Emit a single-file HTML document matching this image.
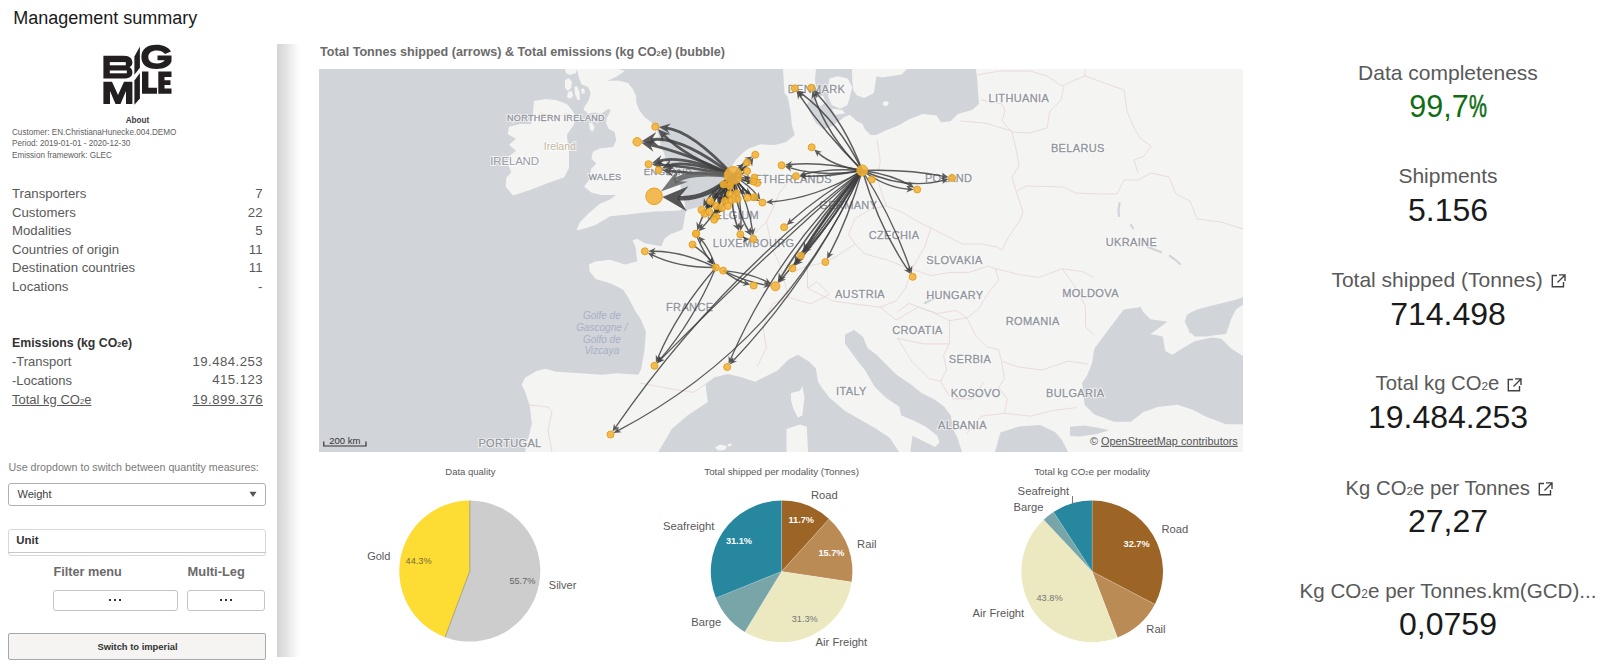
<!DOCTYPE html>
<html><head><meta charset="utf-8"><style>
html,body{margin:0;padding:0;background:#fff;overflow:hidden;}
body{width:1600px;height:664px;overflow:hidden;position:relative;font-family:"Liberation Sans", sans-serif;}
.t{position:absolute;line-height:1;white-space:nowrap;}
.abs{position:absolute;}
.sub{font-size:58%;}
svg text{font-family:"Liberation Sans", sans-serif;}
</style></head><body>
<div class="t" style="left:13.3px;top:9.06px;font-size:18px;font-weight:400;color:#1a1a1a;">Management summary</div>
<svg class="abs" style="left:0;top:0" width="200" height="120" viewBox="0 0 200 120">
<g fill="#231f20">
<path d="M103.4 55.8 H124 C130 55.8 132.4 59 132.4 62.5 C132.4 65 131 66.5 129.5 67.2 C131.5 68 132.4 70 132.4 72.5 C132.4 76 130 78.5 124 78.5 H103.4 Z"/>
<path d="M103.4 81.7 H112 L118 95 L124 81.7 H132.4 V104 H126 V91 L120.5 104 H115.5 L110 91 V104 H103.4 Z"/>
<path d="M134.4 56.4 L139.9 46.5 V67.8 L134.4 74.7 Z"/>
<path d="M134.4 80.5 L139.9 73 V98.5 L134.4 104.8 Z"/>
<path d="M141.4 57 C141.4 49 147 44.7 156.5 44.7 C163 44.7 168.5 47 171 51.5 L165 54 C163 51.5 160 50.5 157 50.5 C151.5 50.5 148.3 53 148.3 57 C148.3 61 151.5 63.4 157 63.4 C160.5 63.4 163.5 62.3 164.8 60.3 H157.5 V55.4 H171.5 V61.5 C169.5 66.3 164 69 156.5 69 C147 69 141.4 65 141.4 57 Z"/>
<path d="M142 71.6 H148.4 V87.8 H157 V93.8 H142 Z"/>
<path d="M158.3 71.6 H171.5 V77 H164.5 V80.3 H170.5 V85 H164.5 V88.4 H171.5 V93.8 H158.3 Z"/>
</g>
<g fill="#fff">
<rect x="109.8" y="62.1" width="16" height="3.2"/>
<rect x="109.8" y="70.5" width="17" height="2.8"/>
</g>
</svg>
<div class="t" style="left:-362.5px;width:1000px;text-align:center;top:116.66px;font-size:8.2px;font-weight:700;color:#404040;">About</div>
<div class="t" style="left:12.0px;top:128.70px;font-size:8.15px;font-weight:400;color:#606060;">Customer: EN.ChristianaHunecke.004.DEMO</div>
<div class="t" style="left:12.0px;top:140.20px;font-size:8.15px;font-weight:400;color:#606060;">Period: 2019-01-01 - 2020-12-30</div>
<div class="t" style="left:12.0px;top:151.70px;font-size:8.15px;font-weight:400;color:#606060;">Emission framework: GLEC</div>
<div class="t" style="left:12.0px;top:186.93px;font-size:13.2px;font-weight:400;color:#595959;">Transporters</div>
<div class="t" style="left:-737.5px;width:1000px;text-align:right;top:186.93px;font-size:13.2px;font-weight:400;color:#595959;">7</div>
<div class="t" style="left:12.0px;top:205.53px;font-size:13.2px;font-weight:400;color:#595959;">Customers</div>
<div class="t" style="left:-737.5px;width:1000px;text-align:right;top:205.53px;font-size:13.2px;font-weight:400;color:#595959;">22</div>
<div class="t" style="left:12.0px;top:223.53px;font-size:13.2px;font-weight:400;color:#595959;">Modalities</div>
<div class="t" style="left:-737.5px;width:1000px;text-align:right;top:223.53px;font-size:13.2px;font-weight:400;color:#595959;">5</div>
<div class="t" style="left:12.0px;top:242.83px;font-size:13.2px;font-weight:400;color:#595959;">Countries of origin</div>
<div class="t" style="left:-737.5px;width:1000px;text-align:right;top:242.83px;font-size:13.2px;font-weight:400;color:#595959;">11</div>
<div class="t" style="left:12.0px;top:261.33px;font-size:13.2px;font-weight:400;color:#595959;">Destination countries</div>
<div class="t" style="left:-737.5px;width:1000px;text-align:right;top:261.33px;font-size:13.2px;font-weight:400;color:#595959;">11</div>
<div class="t" style="left:12.0px;top:279.83px;font-size:13.2px;font-weight:400;color:#595959;">Locations</div>
<div class="t" style="left:-737.5px;width:1000px;text-align:right;top:279.83px;font-size:13.2px;font-weight:400;color:#595959;">-</div>
<div class="t" style="left:12.0px;top:337.09px;font-size:12.3px;font-weight:700;color:#333333;">Emissions (kg CO<span class="sub">2</span>e)</div>
<div class="t" style="left:12.0px;top:355.40px;font-size:13px;font-weight:400;color:#595959;">-Transport</div>
<div class="t" style="left:-737.0px;width:1000px;text-align:right;top:355.23px;font-size:13.2px;font-weight:400;color:#595959;letter-spacing:0.45px;">19.484.253</div>
<div class="t" style="left:12.0px;top:373.60px;font-size:13px;font-weight:400;color:#595959;">-Locations</div>
<div class="t" style="left:-737.0px;width:1000px;text-align:right;top:373.43px;font-size:13.2px;font-weight:400;color:#595959;letter-spacing:0.45px;">415.123</div>
<div class="t" style="left:12.0px;top:392.90px;font-size:13px;font-weight:400;color:#595959;"><u>Total kg CO<span class="sub">2</span>e</u></div>
<div class="t" style="left:-737.0px;width:1000px;text-align:right;top:392.73px;font-size:13.2px;font-weight:400;color:#595959;letter-spacing:0.45px;"><u>19.899.376</u></div>
<div class="t" style="left:8.6px;top:461.74px;font-size:10.7px;font-weight:400;color:#7a7a7a;">Use dropdown to switch between quantity measures:</div>
<div class="abs" style="left:8.4px;top:483.4px;width:257.6px;height:22.9px;box-sizing:border-box;border:1px solid #b0b0b0;border-radius:3px;background:#fff"></div>
<div class="t" style="left:17.5px;top:489.49px;font-size:11px;font-weight:400;color:#404040;">Weight</div>
<svg class="abs" style="left:249px;top:491px" width="9" height="7"><path d="M0.5 0.8 H7.5 L4 6 Z" fill="#555"/></svg>
<div class="abs" style="left:8.4px;top:528.5px;width:257.6px;height:27.5px;box-sizing:border-box;border:1px solid #d8d8d8;border-radius:3px;background:#fff"></div>
<div class="abs" style="left:8.4px;top:552px;width:257.6px;height:1px;background:#c8c8c8"></div>
<div class="t" style="left:16.3px;top:534.95px;font-size:11.4px;font-weight:700;color:#333333;">Unit</div>
<div class="t" style="left:53.4px;top:566.15px;font-size:12.7px;font-weight:700;color:#6b6b6b;">Filter menu</div>
<div class="t" style="left:187.6px;top:565.98px;font-size:12.9px;font-weight:700;color:#6b6b6b;">Multi-Leg</div>
<div class="abs" style="left:53.4px;top:589.5px;width:124.2px;height:21.1px;box-sizing:border-box;border:1px solid #c4c4c4;border-radius:3px;background:#fff"></div>
<div class="abs" style="left:187.3px;top:589.5px;width:77.8px;height:21.1px;box-sizing:border-box;border:1px solid #c4c4c4;border-radius:3px;background:#fff"></div>
<div class="abs" style="left:109px;top:599px;width:2px;height:2px;background:#333"></div>
<div class="abs" style="left:114px;top:599px;width:2px;height:2px;background:#333"></div>
<div class="abs" style="left:119px;top:599px;width:2px;height:2px;background:#333"></div>
<div class="abs" style="left:220px;top:599px;width:2px;height:2px;background:#333"></div>
<div class="abs" style="left:225px;top:599px;width:2px;height:2px;background:#333"></div>
<div class="abs" style="left:230px;top:599px;width:2px;height:2px;background:#333"></div>
<div class="abs" style="left:8.4px;top:633.4px;width:257.3px;height:26.4px;box-sizing:border-box;border:1px solid #a8a8a8;border-radius:2px;background:#f5f4f2"></div>
<div class="t" style="left:-362.5px;width:1000px;text-align:center;top:641.54px;font-size:9.4px;font-weight:700;color:#333333;">Switch to imperial</div>
<div class="abs" style="left:277px;top:44px;width:24px;height:613px;background:linear-gradient(to right,#d4d4d4 0%,#e2e2e2 35%,#f8f8f8 80%,#ffffff 100%)"></div>
<div class="t" style="left:320.0px;top:46.33px;font-size:12.6px;font-weight:700;color:#6b6b6b;">Total Tonnes shipped (arrows) &amp; Total emissions (kg CO<span class="sub">2</span>e) (bubble)</div>
<svg class="abs" style="left:319px;top:69px" width="924" height="383" viewBox="319 69 924 383">
<rect x="319" y="69" width="924" height="383" fill="#f4f4f3"/>
<polygon points="319,69 783,69 784.5,93 787.7,97 790.5,111 791.9,125 794.7,135 786.2,142 775,145 760.4,144.3 748.3,148.8 742.3,153.3 736.3,159.4 730.2,168.4 725,178 720,190 712.3,202.6 698.8,207.1 688,209.8 685.5,212 684,222 682.4,229.7 670.4,234.2 664.4,238.8 661.4,246.3 644.8,243.3 637.2,238.8 632.7,240.3 635.7,247.8 637.2,261.4 625.2,264.4 610.1,259.8 595.1,261.4 589,264.4 589.6,271.3 595.7,279 611,283.5 623,289.6 629,298.7 635.2,311 641.3,320 646,332 644.4,350.5 641.3,368.7 638.3,374.8 617,373.3 601.8,374.8 580.5,373.3 556,371.8 545.6,368.7 536.4,371 525,377.8 521.6,384.7 525,391.6 529.6,405.3 531.9,423.6 527.3,442 525,452 319,452" fill="#d1d4d9"/>
<polygon points="816,69 852,69 852.3,81 853.5,90.7 857.1,95.5 864.3,97.9 874,93.1 876.4,76.2 881.9,77.4 901.6,74.6 907,69 976,69 977.5,83 979,104 972,110 957.8,114 950.8,121 941,122.4 936.7,115.4 922.7,114 908.6,119.6 898.8,125.2 884.7,130.9 876.2,135 870.6,135 865,129.5 862.2,123.8 856.6,121 849.9,114.8 843.9,117.2 837.8,122 830.6,126.8 823.4,129.2 816.1,123.2 811.3,114.8 806.5,105.1 810,100.3 816.1,93.1 815,78.6" fill="#d1d4d9"/>
<polygon points="658.3,452 671.8,429 687.5,415.5 707.8,402 705.5,384 714.5,377.3 728,373.9 741.5,377.3 755,381.8 764,377.3 777.5,370.5 788.8,359.3 797.8,354.8 809,361.5 815.8,368.3 818,381.8 822.5,388.5 829.3,397.5 845,411 860.8,420 876.5,429 890,438 899,452" fill="#d1d4d9"/>
<polygon points="845,334.5 854,330 863,336.8 867.5,348 876.5,354.8 885.5,363.8 896.8,375 910.3,384 921.5,393 935,399.8 944,406.5 950.8,415.5 953,429 957.5,438 962,452 910.3,452 912.5,435.8 935,447 939.5,442.5 937.3,435.8 926,426.8 912.5,420 901.3,415.5 899,406.5 885.5,397.5 874.3,386.3 865.3,370.5 856.3,359.3 845,343.5" fill="#d1d4d9"/>
<polygon points="1123.7,309.5 1140.8,307 1143.2,312 1150.5,319.3 1167.6,321.7 1150.5,334 1162.7,336.4 1165.2,351 1172.5,354.7 1182.2,348.6 1194.5,341.2 1211.5,337.6 1221.3,338.8 1231,348.6 1243,355.9 1243,424.2 1226.2,424.2 1206.7,416.9 1192,409.6 1177.4,404.7 1157.8,407.1 1143.2,412 1131,421.8 1113.9,421.8 1094.4,414.5 1084.6,404.7 1082.2,382.7 1087.1,375.4 1092,363.2 1094.4,348.6 1101.7,338.8 1109,329 1116.4,319.3" fill="#d1d4d9"/>
<polygon points="1187.1,314.4 1196.9,309.5 1216.4,304.6 1235.9,299.8 1243,297.3 1243,304.6 1235.9,309.5 1231,319.3 1226.2,334 1216.4,335.1 1206.7,336.4 1194.5,336.4 1189.6,331.5 1184.7,321.7" fill="#d1d4d9"/>
<polygon points="1070,426.7 1084.6,425.4 1099.3,427.9 1109,430.3 1096.8,434 1079.8,436.4 1070,436" fill="#d1d4d9"/>
<polygon points="995,452 1000.4,432.6 1018.7,426.5 1040,425 1055,432 1062,440 1068,452" fill="#d1d4d9"/>
<polygon points="534,101 545,99 556,100 566.8,104 572,110 576.4,117 574,124.3 566.8,135 568,145 569,153 569,167.7 564.3,177.3 547.5,183.3 530,190 513,195.5 505.6,186.5 506.5,177.3 511.3,172.4 507.7,163 510,155.6 516,150.8 509,144.7 516,138.7 507.7,134 509,126.7 520,124 531,124 533,114" fill="#f4f4f3"/>
<polygon points="589,123 592,122.5 594.5,127 593,131.5 590,130" fill="#f4f4f3"/>
<polygon points="577,69 617.9,69 625,71 616,77 607,81 618,80.5 628,83 632.8,88.9 636.1,95.5 636.1,102.1 639.5,110.4 644.4,117 651,122 656,127 657.7,132 659.3,138.6 661,146.9 664.3,153.5 666,161.8 669.3,168.4 675.9,175 680,181 681,190 684,200 685.5,207 680,210.5 670.4,211 655.3,211.6 640.3,213.1 625.2,214.7 610,216.2 595,225.2 580,229.7 576.4,230 580,222 589,213 599.6,204 610,199.6 616,195 601,195 591.4,192.5 584,186.5 589.8,179 589.8,175 591.4,168.4 596.4,163.4 591.4,158.5 593,151.8 599.7,148.5 613,146.9 616.3,140.2 614.6,132 608.8,129 606,123.2 607,117.8 610.6,110.6 608.8,108.8 604.2,111.5 600.6,114.2 595.2,112.4 588,113.3 583.5,109.7 584.4,107 588.9,99.7 590.7,92.5 588,87 581.6,84.4 579,78" fill="#f4f4f3"/>
<polygon points="574.4,87 577,86 579.5,92 580,99.7 577.5,100 575,94" fill="#f4f4f3"/>
<polygon points="565,80 569,78 572,82 571,88 568,91 565,88" fill="#f4f4f3"/>
<polygon points="568,92 572,91 573,96 570,99 567,97" fill="#f4f4f3"/>
<polygon points="565,69 577,69 576,73 570,75 566,73" fill="#f4f4f3"/>
<polygon points="581,89 584,88.5 585,93 582,94" fill="#f4f4f3"/>
<polygon points="791,393 800,390.8 802.3,386.3 804.5,397.5 802.3,415.5 797.8,417.8 793.3,408.8 791,399.8" fill="#f4f4f3"/>
<polygon points="786.5,429 800,424.5 806.8,426.8 808,452 786.5,452" fill="#f4f4f3"/>
<polygon points="829.4,78.6 837.8,76.2 847.5,78.6 852.3,87 849.9,96.7 847.5,105.1 840.2,108.8 831.8,105.1 828.2,96.7 828.2,87" fill="#f4f4f3"/>
<polygon points="816.1,96.7 823.4,95.5 825.8,102.7 819.8,106.3 815,102.7" fill="#f4f4f3"/>
<polygon points="831.8,108.8 842.7,110 845.1,113.6 835.4,114.8" fill="#f4f4f3"/>
<polygon points="883,102 887,101 889,104 886,106.5 883,105" fill="#f4f4f3"/>
<polygon points="715,447.5 720,444.5 727,446 725,450 718,450.5" fill="#f4f4f3"/>
<polygon points="728,444 731,443.5 731.5,446 728.5,446.5" fill="#f4f4f3"/>
<polyline points="1119.5,203 1118.5,210 1119,216" fill="none" stroke="#d1d4d9" stroke-width="2.2" stroke-linecap="round"/>
<polyline points="1148,247 1154,249.5 1161,252" fill="none" stroke="#d1d4d9" stroke-width="2.2" stroke-linecap="round"/>
<polyline points="1170,256 1175,259.5 1180,264" fill="none" stroke="#d1d4d9" stroke-width="2.2" stroke-linecap="round"/>
<polyline points="1131,225 1133,228" fill="none" stroke="#d1d4d9" stroke-width="2.2" stroke-linecap="round"/>
<polyline points="925,303 931,300 935,298" fill="none" stroke="#d1d4d9" stroke-width="2.2" stroke-linecap="round"/>
<polyline points="1190,332 1200,330" fill="none" stroke="#d1d4d9" stroke-width="2.2" stroke-linecap="round"/>
<polyline points="977,75 1000,71 1030,71 1047,76 1062,86 1075,80 1085,76 1085,69" fill="none" stroke="#e8d2d2" stroke-width="0.75" stroke-linejoin="round"/>
<polyline points="1064,86 1061,100 1050,111 1047,128 1030,133 1012,132 1002,121 1005,111 1002,104 981,100" fill="none" stroke="#e8d2d2" stroke-width="0.75" stroke-linejoin="round"/>
<polyline points="960,121 985,123 1012,131" fill="none" stroke="#e8d2d2" stroke-width="0.75" stroke-linejoin="round"/>
<polyline points="1012,132 1016,149 1019,166 1012,177 1016,191 1023,212 1019,222 1009,236 1002,250" fill="none" stroke="#e8d2d2" stroke-width="0.75" stroke-linejoin="round"/>
<polyline points="1017,191 1026,186 1064,187 1075,193 1099,194 1117,194 1124,180 1138,180 1151,173 1169,177 1176,194 1190,201 1197,219 1221,222 1243,229" fill="none" stroke="#e8d2d2" stroke-width="0.75" stroke-linejoin="round"/>
<polyline points="1085,76 1124,90 1127,111 1134,128 1141,139 1151,146 1144,156 1134,160 1138,173" fill="none" stroke="#e8d2d2" stroke-width="0.75" stroke-linejoin="round"/>
<polyline points="877,139.5 880.3,161.6 877,177.5 881.8,193.3 886.6,206" fill="none" stroke="#e8d2d2" stroke-width="0.75" stroke-linejoin="round"/>
<polyline points="886.6,206 870.8,209 855,218.6 848.6,234.4 855,244 864.4,253.4 874,256.6 886.6,259.7 902.4,266 912,269.2" fill="none" stroke="#e8d2d2" stroke-width="0.75" stroke-linejoin="round"/>
<polyline points="886.6,206 902.4,212.3 918.2,221.8 931,228 943.5,234.4 962.5,244 981.5,244 997.3,247 1002,250" fill="none" stroke="#e8d2d2" stroke-width="0.75" stroke-linejoin="round"/>
<polyline points="931,228 924.6,247 912,269.2" fill="none" stroke="#e8d2d2" stroke-width="0.75" stroke-linejoin="round"/>
<polyline points="912,269.2 931,275.6 950,272.4 968.9,272.4 987.8,266 995.7,268.7" fill="none" stroke="#e8d2d2" stroke-width="0.75" stroke-linejoin="round"/>
<polyline points="855,244 836,256.6 823.3,263 807.5,266 791.6,272.4" fill="none" stroke="#e8d2d2" stroke-width="0.75" stroke-linejoin="round"/>
<polyline points="807.5,266 807.5,288.2 832.8,301 855,304 880.3,307.2 896,301 905.6,288.2 912,269.2" fill="none" stroke="#e8d2d2" stroke-width="0.75" stroke-linejoin="round"/>
<polyline points="880.3,307.2 896,320 918.2,307.2 937.2,313.5 956.2,310.4 966.8,317.9" fill="none" stroke="#e8d2d2" stroke-width="0.75" stroke-linejoin="round"/>
<polyline points="791.6,177.5 779,193.3 772.7,209 766.3,221.8 772.7,250" fill="none" stroke="#e8d2d2" stroke-width="0.75" stroke-linejoin="round"/>
<polyline points="995.7,268.7 998.6,280.2 987,294.7 978.4,309.2 966.8,317.9" fill="none" stroke="#e8d2d2" stroke-width="0.75" stroke-linejoin="round"/>
<polyline points="966.8,317.9 949.4,320.7 932,312 909,303.4 897.4,312" fill="none" stroke="#e8d2d2" stroke-width="0.75" stroke-linejoin="round"/>
<polyline points="995.7,268.7 1018.8,274.5 1039,277.4 1062.2,268.7 1082.5,271.6 1094,277.4" fill="none" stroke="#e8d2d2" stroke-width="0.75" stroke-linejoin="round"/>
<polyline points="1062.2,268.7 1076.7,289 1085.4,306.3 1085.4,326.5 1094,335.2" fill="none" stroke="#e8d2d2" stroke-width="0.75" stroke-linejoin="round"/>
<polyline points="966.8,317.9 975.5,335.2 987,346.8 998.6,349.7 1001.5,361.2" fill="none" stroke="#e8d2d2" stroke-width="0.75" stroke-linejoin="round"/>
<polyline points="1001.5,361.2 1018.8,367 1042,370 1068,361.2 1088.3,364" fill="none" stroke="#e8d2d2" stroke-width="0.75" stroke-linejoin="round"/>
<polyline points="1001.5,361.2 1004.4,378.6 998.6,387.3 1007.3,398.8 1004.4,413.3" fill="none" stroke="#e8d2d2" stroke-width="0.75" stroke-linejoin="round"/>
<polyline points="949.4,320.7 949.4,343.9 943.6,355.5 946.5,370 940.7,381.5 949.4,396" fill="none" stroke="#e8d2d2" stroke-width="0.75" stroke-linejoin="round"/>
<polyline points="897.4,338.1 923.4,343.9 949.4,343.9" fill="none" stroke="#e8d2d2" stroke-width="0.75" stroke-linejoin="round"/>
<polyline points="897.4,338.1 911.8,361.2 929.2,378.6 940.7,381.5" fill="none" stroke="#e8d2d2" stroke-width="0.75" stroke-linejoin="round"/>
<polyline points="952.3,398.8 972.6,398.8 984.1,381.5" fill="none" stroke="#e8d2d2" stroke-width="0.75" stroke-linejoin="round"/>
<polyline points="1004.4,413.3 981.2,416.2 966.8,433.6" fill="none" stroke="#e8d2d2" stroke-width="0.75" stroke-linejoin="round"/>
<polyline points="1004.4,413.3 1030.4,416.2 1053.6,410.4 1076.7,407.5" fill="none" stroke="#e8d2d2" stroke-width="0.75" stroke-linejoin="round"/>
<polyline points="772.7,250 779,262.7 785.4,284.8 788.5,297.5" fill="none" stroke="#e8d2d2" stroke-width="0.75" stroke-linejoin="round"/>
<polyline points="788.5,297.5 772.7,303.8 766.4,316.4 763.3,329 766.4,348 760.1,360.7 757,367" fill="none" stroke="#e8d2d2" stroke-width="0.75" stroke-linejoin="round"/>
<polyline points="788.5,297.5 810.7,303.8 829.6,294.3 817,281.7 807.5,288.2" fill="none" stroke="#e8d2d2" stroke-width="0.75" stroke-linejoin="round"/>
<polyline points="640,383 671.6,389 693.7,392.3 705.5,384" fill="none" stroke="#e8d2d2" stroke-width="0.75" stroke-linejoin="round"/>
<polyline points="712,202.6 725,214 740,222 753.8,234.2 766.3,221.8" fill="none" stroke="#e8d2d2" stroke-width="0.75" stroke-linejoin="round"/>
<polyline points="540,112 548,118 556,122 560,116 567,113" fill="none" stroke="#e8d2d2" stroke-width="0.75" stroke-linejoin="round"/>
<polyline points="528,405 540,406 548,407 552,412 548,430 552,452" fill="none" stroke="#e8d2d2" stroke-width="0.75" stroke-linejoin="round"/>
<text x="816.5" y="93.0" text-anchor="middle" font-size="11" fill="#fff" stroke="#fff" stroke-width="2.2" stroke-opacity="0.8" style="letter-spacing:0.35px;">DENMARK</text>
<text x="816.5" y="93.0" text-anchor="middle" font-size="11" fill="#91959c" stroke="#91959c" stroke-width="0.35" style="letter-spacing:0.35px;">DENMARK</text>
<text x="1018.8" y="102.1" text-anchor="middle" font-size="11" fill="#fff" stroke="#fff" stroke-width="2.2" stroke-opacity="0.8" style="letter-spacing:0.35px;">LITHUANIA</text>
<text x="1018.8" y="102.1" text-anchor="middle" font-size="11" fill="#91959c" stroke="#91959c" stroke-width="0.35" style="letter-spacing:0.35px;">LITHUANIA</text>
<text x="556" y="121.39999999999999" text-anchor="middle" font-size="9" fill="#fff" stroke="#fff" stroke-width="2.2" stroke-opacity="0.8" style="letter-spacing:0.35px;">NORTHERN IRELAND</text>
<text x="556" y="121.39999999999999" text-anchor="middle" font-size="9" fill="#91959c" stroke="#91959c" stroke-width="0.35" style="letter-spacing:0.35px;">NORTHERN IRELAND</text>
<text x="559.8" y="150.3" text-anchor="middle" font-size="10.5" font-weight="400" fill="#c2b89e" stroke="#fff" stroke-width="2" stroke-opacity="0.7" paint-order="stroke" style="">Ireland</text>
<text x="514.6" y="165.4" text-anchor="middle" font-size="11.5" font-weight="400" fill="#999da5" stroke="#fff" stroke-width="2" stroke-opacity="0.7" paint-order="stroke" style="letter-spacing:-0.2px;">IRELAND</text>
<text x="1077.8" y="151.5" text-anchor="middle" font-size="11" fill="#fff" stroke="#fff" stroke-width="2.2" stroke-opacity="0.8" style="letter-spacing:0.35px;">BELARUS</text>
<text x="1077.8" y="151.5" text-anchor="middle" font-size="11" fill="#91959c" stroke="#91959c" stroke-width="0.35" style="letter-spacing:0.35px;">BELARUS</text>
<text x="605" y="179.79999999999998" text-anchor="middle" font-size="9" fill="#fff" stroke="#fff" stroke-width="2.2" stroke-opacity="0.8" style="letter-spacing:0.35px;">WALES</text>
<text x="605" y="179.79999999999998" text-anchor="middle" font-size="9" fill="#91959c" stroke="#91959c" stroke-width="0.35" style="letter-spacing:0.35px;">WALES</text>
<text x="668" y="175.0" text-anchor="middle" font-size="9.5" fill="#fff" stroke="#fff" stroke-width="2.2" stroke-opacity="0.8" style="letter-spacing:0.35px;">ENGLAND</text>
<text x="668" y="175.0" text-anchor="middle" font-size="9.5" fill="#91959c" stroke="#91959c" stroke-width="0.35" style="letter-spacing:0.35px;">ENGLAND</text>
<text x="789" y="182.9" text-anchor="middle" font-size="11" fill="#fff" stroke="#fff" stroke-width="2.2" stroke-opacity="0.8" style="letter-spacing:0.35px;">NETHERLANDS</text>
<text x="789" y="182.9" text-anchor="middle" font-size="11" fill="#91959c" stroke="#91959c" stroke-width="0.35" style="letter-spacing:0.35px;">NETHERLANDS</text>
<text x="948.6" y="182.1" text-anchor="middle" font-size="11" fill="#fff" stroke="#fff" stroke-width="2.2" stroke-opacity="0.8" style="letter-spacing:0.35px;">POLAND</text>
<text x="948.6" y="182.1" text-anchor="middle" font-size="11" fill="#91959c" stroke="#91959c" stroke-width="0.35" style="letter-spacing:0.35px;">POLAND</text>
<text x="848.3" y="208.9" text-anchor="middle" font-size="11" fill="#fff" stroke="#fff" stroke-width="2.2" stroke-opacity="0.8" style="letter-spacing:0.35px;">GERMANY</text>
<text x="848.3" y="208.9" text-anchor="middle" font-size="11" fill="#91959c" stroke="#91959c" stroke-width="0.35" style="letter-spacing:0.35px;">GERMANY</text>
<text x="733" y="219.1" text-anchor="middle" font-size="11" fill="#fff" stroke="#fff" stroke-width="2.2" stroke-opacity="0.8" style="letter-spacing:0.35px;">BELGIUM</text>
<text x="733" y="219.1" text-anchor="middle" font-size="11" fill="#91959c" stroke="#91959c" stroke-width="0.35" style="letter-spacing:0.35px;">BELGIUM</text>
<text x="753.6" y="246.6" text-anchor="middle" font-size="11" fill="#fff" stroke="#fff" stroke-width="2.2" stroke-opacity="0.8" style="letter-spacing:0.35px;">LUXEMBOURG</text>
<text x="753.6" y="246.6" text-anchor="middle" font-size="11" fill="#91959c" stroke="#91959c" stroke-width="0.35" style="letter-spacing:0.35px;">LUXEMBOURG</text>
<text x="894" y="239.0" text-anchor="middle" font-size="11" fill="#fff" stroke="#fff" stroke-width="2.2" stroke-opacity="0.8" style="letter-spacing:0.35px;">CZECHIA</text>
<text x="894" y="239.0" text-anchor="middle" font-size="11" fill="#91959c" stroke="#91959c" stroke-width="0.35" style="letter-spacing:0.35px;">CZECHIA</text>
<text x="1131.4" y="245.79999999999998" text-anchor="middle" font-size="11" fill="#fff" stroke="#fff" stroke-width="2.2" stroke-opacity="0.8" style="letter-spacing:0.35px;">UKRAINE</text>
<text x="1131.4" y="245.79999999999998" text-anchor="middle" font-size="11" fill="#91959c" stroke="#91959c" stroke-width="0.35" style="letter-spacing:0.35px;">UKRAINE</text>
<text x="954.5" y="264.3" text-anchor="middle" font-size="11" fill="#fff" stroke="#fff" stroke-width="2.2" stroke-opacity="0.8" style="letter-spacing:0.35px;">SLOVAKIA</text>
<text x="954.5" y="264.3" text-anchor="middle" font-size="11" fill="#91959c" stroke="#91959c" stroke-width="0.35" style="letter-spacing:0.35px;">SLOVAKIA</text>
<text x="689.7" y="311.20000000000005" text-anchor="middle" font-size="11" fill="#fff" stroke="#fff" stroke-width="2.2" stroke-opacity="0.8" style="letter-spacing:0.35px;">FRANCE</text>
<text x="689.7" y="311.20000000000005" text-anchor="middle" font-size="11" fill="#91959c" stroke="#91959c" stroke-width="0.35" style="letter-spacing:0.35px;">FRANCE</text>
<text x="860" y="298.40000000000003" text-anchor="middle" font-size="11" fill="#fff" stroke="#fff" stroke-width="2.2" stroke-opacity="0.8" style="letter-spacing:0.35px;">AUSTRIA</text>
<text x="860" y="298.40000000000003" text-anchor="middle" font-size="11" fill="#91959c" stroke="#91959c" stroke-width="0.35" style="letter-spacing:0.35px;">AUSTRIA</text>
<text x="954.8" y="299.3" text-anchor="middle" font-size="11" fill="#fff" stroke="#fff" stroke-width="2.2" stroke-opacity="0.8" style="letter-spacing:0.35px;">HUNGARY</text>
<text x="954.8" y="299.3" text-anchor="middle" font-size="11" fill="#91959c" stroke="#91959c" stroke-width="0.35" style="letter-spacing:0.35px;">HUNGARY</text>
<text x="1090.5" y="296.90000000000003" text-anchor="middle" font-size="11" fill="#fff" stroke="#fff" stroke-width="2.2" stroke-opacity="0.8" style="letter-spacing:0.35px;">MOLDOVA</text>
<text x="1090.5" y="296.90000000000003" text-anchor="middle" font-size="11" fill="#91959c" stroke="#91959c" stroke-width="0.35" style="letter-spacing:0.35px;">MOLDOVA</text>
<text x="917.5" y="334.20000000000005" text-anchor="middle" font-size="11" fill="#fff" stroke="#fff" stroke-width="2.2" stroke-opacity="0.8" style="letter-spacing:0.35px;">CROATIA</text>
<text x="917.5" y="334.20000000000005" text-anchor="middle" font-size="11" fill="#91959c" stroke="#91959c" stroke-width="0.35" style="letter-spacing:0.35px;">CROATIA</text>
<text x="1032.7" y="325.20000000000005" text-anchor="middle" font-size="11" fill="#fff" stroke="#fff" stroke-width="2.2" stroke-opacity="0.8" style="letter-spacing:0.35px;">ROMANIA</text>
<text x="1032.7" y="325.20000000000005" text-anchor="middle" font-size="11" fill="#91959c" stroke="#91959c" stroke-width="0.35" style="letter-spacing:0.35px;">ROMANIA</text>
<text x="970" y="363.20000000000005" text-anchor="middle" font-size="11" fill="#fff" stroke="#fff" stroke-width="2.2" stroke-opacity="0.8" style="letter-spacing:0.35px;">SERBIA</text>
<text x="970" y="363.20000000000005" text-anchor="middle" font-size="11" fill="#91959c" stroke="#91959c" stroke-width="0.35" style="letter-spacing:0.35px;">SERBIA</text>
<text x="851.4" y="395.1" text-anchor="middle" font-size="11" fill="#fff" stroke="#fff" stroke-width="2.2" stroke-opacity="0.8" style="letter-spacing:0.35px;">ITALY</text>
<text x="851.4" y="395.1" text-anchor="middle" font-size="11" fill="#91959c" stroke="#91959c" stroke-width="0.35" style="letter-spacing:0.35px;">ITALY</text>
<text x="975.7" y="396.6" text-anchor="middle" font-size="11" fill="#fff" stroke="#fff" stroke-width="2.2" stroke-opacity="0.8" style="letter-spacing:0.35px;">KOSOVO</text>
<text x="975.7" y="396.6" text-anchor="middle" font-size="11" fill="#91959c" stroke="#91959c" stroke-width="0.35" style="letter-spacing:0.35px;">KOSOVO</text>
<text x="1075.2" y="396.6" text-anchor="middle" font-size="11" fill="#fff" stroke="#fff" stroke-width="2.2" stroke-opacity="0.8" style="letter-spacing:0.35px;">BULGARIA</text>
<text x="1075.2" y="396.6" text-anchor="middle" font-size="11" fill="#91959c" stroke="#91959c" stroke-width="0.35" style="letter-spacing:0.35px;">BULGARIA</text>
<text x="962.5" y="428.6" text-anchor="middle" font-size="11" fill="#fff" stroke="#fff" stroke-width="2.2" stroke-opacity="0.8" style="letter-spacing:0.35px;">ALBANIA</text>
<text x="962.5" y="428.6" text-anchor="middle" font-size="11" fill="#91959c" stroke="#91959c" stroke-width="0.35" style="letter-spacing:0.35px;">ALBANIA</text>
<text x="510" y="447.1" text-anchor="middle" font-size="11" fill="#fff" stroke="#fff" stroke-width="2.2" stroke-opacity="0.8" style="letter-spacing:0.35px;">PORTUGAL</text>
<text x="510" y="447.1" text-anchor="middle" font-size="11" fill="#91959c" stroke="#91959c" stroke-width="0.35" style="letter-spacing:0.35px;">PORTUGAL</text>
<text x="601.8" y="319.4" text-anchor="middle" font-size="10" font-style="italic" fill="#a7b0c6">Golfe de</text>
<text x="601.8" y="331.3" text-anchor="middle" font-size="10" font-style="italic" fill="#a7b0c6">Gascogne /</text>
<text x="601.8" y="342.8" text-anchor="middle" font-size="10" font-style="italic" fill="#a7b0c6">Golfo de</text>
<text x="601.8" y="354.4" text-anchor="middle" font-size="10" font-style="italic" fill="#a7b0c6">Vizcaya</text>
<path d="M733.2 175.5 Q691.8 130.9 665.8 127.9" fill="none" stroke="#404040" stroke-opacity="0.85" stroke-width="2.8"/>
<path d="M658.9 127.1 L670.9 123.5 L666.3 128.0 L669.7 133.4 Z" fill="#404040" fill-opacity="0.85"/>
<path d="M733.2 175.5 Q685.8 156.9 663.3 134.7" fill="none" stroke="#404040" stroke-opacity="0.85" stroke-width="2.6"/>
<path d="M657.9 129.2 L670.7 134.2 L663.7 135.0 L663.0 142.0 Z" fill="#404040" fill-opacity="0.85"/>
<path d="M733.2 175.5 Q680.8 135.3 651.1 139.7" fill="none" stroke="#404040" stroke-opacity="0.85" stroke-width="3.0"/>
<path d="M641.5 141.2 L656.4 131.9 L651.8 139.6 L658.4 145.7 Z" fill="#404040" fill-opacity="0.85"/>
<path d="M733.2 175.5 Q686.8 153.3 649.6 144.7" fill="none" stroke="#404040" stroke-opacity="0.85" stroke-width="2.8"/>
<path d="M641.4 142.8 L656.2 140.1 L650.2 144.8 L653.5 151.7 Z" fill="#404040" fill-opacity="0.85"/>
<path d="M733.2 175.5 Q681.1 154.2 658.5 161.1" fill="none" stroke="#404040" stroke-opacity="0.85" stroke-width="2.7"/>
<path d="M651.8 163.2 L661.4 155.0 L659.0 161.0 L664.3 164.6 Z" fill="#404040" fill-opacity="0.85"/>
<path d="M733.2 175.5 Q689.1 166.2 659.0 164.7" fill="none" stroke="#404040" stroke-opacity="0.85" stroke-width="2.5"/>
<path d="M652.0 164.4 L663.7 159.9 L659.5 164.7 L663.2 169.9 Z" fill="#404040" fill-opacity="0.85"/>
<path d="M733.2 175.5 Q684.1 159.2 668.3 165.9" fill="none" stroke="#404040" stroke-opacity="0.85" stroke-width="2.7"/>
<path d="M661.8 168.6 L670.5 159.6 L668.7 165.7 L674.4 168.8 Z" fill="#404040" fill-opacity="0.85"/>
<path d="M733.2 175.5 Q692.1 173.2 669.1 171.0" fill="none" stroke="#404040" stroke-opacity="0.85" stroke-width="2.5"/>
<path d="M662.1 170.3 L674.0 166.5 L669.5 171.1 L673.0 176.4 Z" fill="#404040" fill-opacity="0.85"/>
<path d="M733.2 175.5 Q690.3 170.1 674.4 181.6" fill="none" stroke="#606060" stroke-opacity="0.85" stroke-width="5.5"/>
<path d="M660.8 191.4 L678.5 168.8 L675.4 180.9 L687.9 181.8 Z" fill="#606060" fill-opacity="0.85"/>
<path d="M733.2 175.5 Q706.3 200.1 677.7 198.0" fill="none" stroke="#3a3a3a" stroke-opacity="0.85" stroke-width="4.5"/>
<path d="M662.4 196.9 L688.5 186.3 L678.8 198.1 L686.7 211.2 Z" fill="#3a3a3a" fill-opacity="0.85"/>
<path d="M733.2 175.5 Q746.7 167.8 750.6 161.8" fill="none" stroke="#404040" stroke-opacity="0.85" stroke-width="1.6"/>
<path d="M753.4 157.6 L752.1 166.7 L750.4 162.1 L745.6 162.4 Z" fill="#404040" fill-opacity="0.85"/>
<path d="M733.2 175.5 Q742.2 162.9 748.5 159.0" fill="none" stroke="#404040" stroke-opacity="0.85" stroke-width="1.4"/>
<path d="M752.3 156.6 L747.8 163.4 L748.2 159.1 L744.2 157.7 Z" fill="#404040" fill-opacity="0.85"/>
<path d="M733.2 175.5 Q741.7 170.7 742.4 169.6" fill="none" stroke="#404040" stroke-opacity="0.85" stroke-width="1.6"/>
<path d="M745.2 165.4 L743.8 174.4 L742.2 169.9 L737.4 170.2 Z" fill="#404040" fill-opacity="0.85"/>
<path d="M733.2 175.5 Q738.9 167.6 740.3 166.7" fill="none" stroke="#404040" stroke-opacity="0.85" stroke-width="1.4"/>
<path d="M744.1 164.3 L739.5 171.1 L740.0 166.9 L736.0 165.4 Z" fill="#404040" fill-opacity="0.85"/>
<path d="M733.2 175.5 Q718.7 185.6 714.4 193.6" fill="none" stroke="#404040" stroke-opacity="0.85" stroke-width="1.6"/>
<path d="M712.0 198.0 L712.5 188.9 L714.5 193.3 L719.3 192.6 Z" fill="#404040" fill-opacity="0.85"/>
<path d="M733.2 175.5 Q724.3 190.6 716.7 196.3" fill="none" stroke="#404040" stroke-opacity="0.85" stroke-width="1.4"/>
<path d="M713.1 199.0 L717.1 191.8 L717.0 196.1 L721.1 197.2 Z" fill="#404040" fill-opacity="0.85"/>
<path d="M733.2 175.5 Q713.2 188.9 705.7 202.4" fill="none" stroke="#404040" stroke-opacity="0.85" stroke-width="1.6"/>
<path d="M703.2 206.8 L703.9 197.7 L705.8 202.1 L710.6 201.5 Z" fill="#404040" fill-opacity="0.85"/>
<path d="M733.2 175.5 Q720.8 195.9 708.0 205.2" fill="none" stroke="#404040" stroke-opacity="0.85" stroke-width="1.4"/>
<path d="M704.3 207.8 L708.4 200.7 L708.3 205.0 L712.4 206.2 Z" fill="#404040" fill-opacity="0.85"/>
<path d="M733.2 175.5 Q719.8 194.1 717.5 208.3" fill="none" stroke="#404040" stroke-opacity="0.85" stroke-width="1.6"/>
<path d="M716.7 213.2 L714.2 204.5 L717.6 207.9 L721.8 205.7 Z" fill="#404040" fill-opacity="0.85"/>
<path d="M733.2 175.5 Q728.8 197.8 720.7 210.0" fill="none" stroke="#404040" stroke-opacity="0.85" stroke-width="1.4"/>
<path d="M718.1 213.8 L719.5 205.7 L720.9 209.7 L725.1 209.4 Z" fill="#404040" fill-opacity="0.85"/>
<path d="M733.2 175.5 Q729.7 205.8 737.3 226.4" fill="none" stroke="#404040" stroke-opacity="0.85" stroke-width="1.6"/>
<path d="M739.1 231.1 L732.6 224.7 L737.2 226.1 L739.8 222.0 Z" fill="#404040" fill-opacity="0.85"/>
<path d="M733.2 175.5 Q742.6 204.2 740.9 226.4" fill="none" stroke="#404040" stroke-opacity="0.85" stroke-width="1.4"/>
<path d="M740.6 230.9 L737.8 223.2 L740.9 226.1 L744.5 223.7 Z" fill="#404040" fill-opacity="0.85"/>
<path d="M733.2 175.5 Q735.7 209.6 749.0 231.6" fill="none" stroke="#404040" stroke-opacity="0.85" stroke-width="1.6"/>
<path d="M751.6 235.9 L744.0 230.8 L748.8 231.3 L750.6 226.8 Z" fill="#404040" fill-opacity="0.85"/>
<path d="M733.2 175.5 Q749.6 205.2 752.5 230.9" fill="none" stroke="#404040" stroke-opacity="0.85" stroke-width="1.4"/>
<path d="M753.0 235.4 L748.8 228.4 L752.5 230.6 L755.5 227.6 Z" fill="#404040" fill-opacity="0.85"/>
<path d="M733.2 175.5 Q707.7 200.2 699.0 225.7" fill="none" stroke="#404040" stroke-opacity="0.85" stroke-width="1.6"/>
<path d="M697.3 230.5 L696.4 221.4 L699.1 225.4 L703.6 223.9 Z" fill="#404040" fill-opacity="0.85"/>
<path d="M733.2 175.5 Q720.5 208.3 701.8 228.0" fill="none" stroke="#404040" stroke-opacity="0.85" stroke-width="1.4"/>
<path d="M698.6 231.3 L701.4 223.5 L702.0 227.7 L706.2 228.2 Z" fill="#404040" fill-opacity="0.85"/>
<path d="M733.2 175.5 Q744.5 192.6 755.0 198.4" fill="none" stroke="#404040" stroke-opacity="0.85" stroke-width="1.6"/>
<path d="M759.3 200.9 L750.3 200.2 L754.6 198.2 L754.0 193.5 Z" fill="#404040" fill-opacity="0.85"/>
<path d="M733.2 175.5 Q750.5 186.1 757.7 196.1" fill="none" stroke="#404040" stroke-opacity="0.85" stroke-width="1.4"/>
<path d="M760.4 199.8 L753.3 195.7 L757.5 195.8 L758.7 191.7 Z" fill="#404040" fill-opacity="0.85"/>
<path d="M733.2 175.5 Q727.7 179.2 728.8 177.8" fill="none" stroke="#333" stroke-opacity="0.85" stroke-width="1.5"/>
<path d="M725.8 181.6 L728.0 173.1 L729.0 177.5 L733.5 177.5 Z" fill="#333" fill-opacity="0.85"/>
<path d="M733.2 175.5 Q730.1 184.6 730.0 185.8" fill="none" stroke="#333" stroke-opacity="0.85" stroke-width="1.5"/>
<path d="M730.0 190.7 L726.6 182.6 L730.0 185.5 L733.6 182.7 Z" fill="#333" fill-opacity="0.85"/>
<path d="M733.2 175.5 Q733.5 184.6 733.8 185.3" fill="none" stroke="#333" stroke-opacity="0.85" stroke-width="1.5"/>
<path d="M735.5 189.9 L729.4 183.6 L733.7 185.0 L736.0 181.2 Z" fill="#333" fill-opacity="0.85"/>
<path d="M733.2 175.5 Q733.6 187.7 734.8 191.2" fill="none" stroke="#333" stroke-opacity="0.85" stroke-width="1.5"/>
<path d="M736.5 195.8 L730.5 189.4 L734.7 190.9 L737.1 187.0 Z" fill="#333" fill-opacity="0.85"/>
<path d="M733.2 175.5 Q738.6 187.7 741.9 191.4" fill="none" stroke="#333" stroke-opacity="0.85" stroke-width="1.5"/>
<path d="M745.2 195.1 L737.2 191.4 L741.7 191.2 L742.4 186.8 Z" fill="#333" fill-opacity="0.85"/>
<path d="M733.2 175.5 Q742.1 188.0 747.7 192.2" fill="none" stroke="#333" stroke-opacity="0.85" stroke-width="1.5"/>
<path d="M751.6 195.1 L743.0 193.1 L747.4 192.0 L747.2 187.5 Z" fill="#333" fill-opacity="0.85"/>
<path d="M733.2 175.5 Q727.1 187.6 726.3 192.8" fill="none" stroke="#333" stroke-opacity="0.85" stroke-width="1.5"/>
<path d="M725.5 197.6 L723.3 189.2 L726.3 192.5 L730.2 190.2 Z" fill="#333" fill-opacity="0.85"/>
<path d="M733.2 175.5 Q728.1 190.3 728.0 197.6" fill="none" stroke="#333" stroke-opacity="0.85" stroke-width="1.5"/>
<path d="M727.9 202.5 L724.6 194.4 L728.0 197.3 L731.6 194.5 Z" fill="#333" fill-opacity="0.85"/>
<path d="M733.2 175.5 Q722.3 189.4 719.1 198.1" fill="none" stroke="#333" stroke-opacity="0.85" stroke-width="1.5"/>
<path d="M717.4 202.7 L716.9 193.9 L719.2 197.8 L723.4 196.3 Z" fill="#333" fill-opacity="0.85"/>
<path d="M733.2 175.5 Q725.0 190.8 723.5 199.6" fill="none" stroke="#333" stroke-opacity="0.85" stroke-width="1.5"/>
<path d="M722.6 204.5 L720.6 195.9 L723.5 199.3 L727.4 197.1 Z" fill="#333" fill-opacity="0.85"/>
<path d="M733.2 175.5 Q715.7 192.3 708.3 206.4" fill="none" stroke="#333" stroke-opacity="0.85" stroke-width="1.5"/>
<path d="M706.0 210.7 L706.7 202.0 L708.5 206.1 L712.9 205.2 Z" fill="#333" fill-opacity="0.85"/>
<path d="M733.2 175.5 Q718.3 191.7 712.8 204.1" fill="none" stroke="#333" stroke-opacity="0.85" stroke-width="1.5"/>
<path d="M710.7 208.6 L710.9 199.8 L712.9 203.8 L717.2 202.7 Z" fill="#333" fill-opacity="0.85"/>
<path d="M733.2 175.5 Q720.2 196.1 716.3 211.6" fill="none" stroke="#333" stroke-opacity="0.85" stroke-width="1.5"/>
<path d="M715.1 216.3 L713.6 207.6 L716.3 211.2 L720.4 209.4 Z" fill="#333" fill-opacity="0.85"/>
<path d="M733.2 175.5 Q740.5 174.4 739.6 174.9" fill="none" stroke="#333" stroke-opacity="0.85" stroke-width="1.5"/>
<path d="M744.0 172.7 L738.3 179.4 L739.3 175.0 L735.2 173.2 Z" fill="#333" fill-opacity="0.85"/>
<path d="M733.2 175.5 Q743.6 178.2 746.0 178.1" fill="none" stroke="#333" stroke-opacity="0.85" stroke-width="1.5"/>
<path d="M750.9 177.8 L743.1 181.8 L745.7 178.1 L742.7 174.8 Z" fill="#333" fill-opacity="0.85"/>
<path d="M733.2 175.5 Q744.7 181.1 749.0 181.7" fill="none" stroke="#333" stroke-opacity="0.85" stroke-width="1.5"/>
<path d="M753.8 182.4 L745.4 184.8 L748.6 181.7 L746.3 177.8 Z" fill="#333" fill-opacity="0.85"/>
<path d="M862.3 170.5 Q838.4 121.3 801.4 93.3" fill="none" stroke="#404040" stroke-opacity="0.85" stroke-width="1.5"/>
<path d="M797.6 90.4 L806.0 92.2 L801.6 93.5 L801.6 98.0 Z" fill="#404040" fill-opacity="0.85"/>
<path d="M862.3 170.5 Q824.4 132.8 799.4 95.1" fill="none" stroke="#404040" stroke-opacity="0.85" stroke-width="1.5"/>
<path d="M796.7 91.2 L804.0 95.7 L799.5 95.4 L798.1 99.7 Z" fill="#404040" fill-opacity="0.85"/>
<path d="M862.3 170.5 Q845.1 124.0 816.9 93.7" fill="none" stroke="#404040" stroke-opacity="0.85" stroke-width="1.5"/>
<path d="M813.7 90.3 L821.6 93.5 L817.1 94.0 L816.3 98.4 Z" fill="#404040" fill-opacity="0.85"/>
<path d="M862.3 170.5 Q826.9 135.2 813.9 95.5" fill="none" stroke="#404040" stroke-opacity="0.85" stroke-width="1.5"/>
<path d="M812.4 91.0 L818.2 97.3 L814.0 95.8 L811.4 99.5 Z" fill="#404040" fill-opacity="0.85"/>
<path d="M862.3 170.5 Q833.5 166.5 817.7 152.6" fill="none" stroke="#404040" stroke-opacity="0.85" stroke-width="1.4"/>
<path d="M814.3 149.6 L822.2 152.0 L818.0 152.8 L817.7 157.1 Z" fill="#404040" fill-opacity="0.85"/>
<path d="M862.3 170.5 Q821.3 177.6 789.3 167.7" fill="none" stroke="#404040" stroke-opacity="0.85" stroke-width="1.4"/>
<path d="M784.9 166.3 L793.1 165.3 L789.6 167.8 L791.1 171.8 Z" fill="#404040" fill-opacity="0.85"/>
<path d="M862.3 170.5 Q822.4 161.4 789.6 164.5" fill="none" stroke="#404040" stroke-opacity="0.85" stroke-width="1.4"/>
<path d="M785.1 165.0 L792.2 160.9 L789.9 164.5 L792.8 167.6 Z" fill="#404040" fill-opacity="0.85"/>
<path d="M862.3 170.5 Q829.4 176.7 803.9 176.3" fill="none" stroke="#404040" stroke-opacity="0.85" stroke-width="1.4"/>
<path d="M799.4 176.2 L806.9 173.0 L804.3 176.3 L806.8 179.7 Z" fill="#404040" fill-opacity="0.85"/>
<path d="M862.3 170.5 Q828.6 168.0 803.7 174.3" fill="none" stroke="#404040" stroke-opacity="0.85" stroke-width="1.4"/>
<path d="M799.3 175.4 L805.7 170.3 L804.0 174.2 L807.4 176.8 Z" fill="#404040" fill-opacity="0.85"/>
<path d="M862.3 170.5 Q905.8 190.4 944.2 180.1" fill="none" stroke="#404040" stroke-opacity="0.85" stroke-width="1.4"/>
<path d="M948.6 178.9 L942.3 184.1 L943.9 180.2 L940.5 177.6 Z" fill="#404040" fill-opacity="0.85"/>
<path d="M862.3 170.5 Q907.6 168.9 944.1 176.4" fill="none" stroke="#404040" stroke-opacity="0.85" stroke-width="1.4"/>
<path d="M948.6 177.3 L940.6 179.1 L943.8 176.3 L941.9 172.5 Z" fill="#404040" fill-opacity="0.85"/>
<path d="M862.3 170.5 Q886.9 188.2 909.2 189.2" fill="none" stroke="#404040" stroke-opacity="0.85" stroke-width="1.4"/>
<path d="M913.7 189.4 L906.1 192.4 L908.8 189.2 L906.4 185.7 Z" fill="#404040" fill-opacity="0.85"/>
<path d="M862.3 170.5 Q891.6 174.5 910.3 185.4" fill="none" stroke="#404040" stroke-opacity="0.85" stroke-width="1.4"/>
<path d="M914.2 187.7 L906.0 186.8 L910.0 185.3 L909.4 181.0 Z" fill="#404040" fill-opacity="0.85"/>
<path d="M862.3 170.5 Q816.2 198.5 770.4 202.0" fill="none" stroke="#404040" stroke-opacity="0.85" stroke-width="1.4"/>
<path d="M765.9 202.3 L773.1 198.4 L770.8 202.0 L773.6 205.1 Z" fill="#404040" fill-opacity="0.85"/>
<path d="M862.3 170.5 Q820.4 194.9 790.1 221.8" fill="none" stroke="#404040" stroke-opacity="0.85" stroke-width="1.4"/>
<path d="M786.7 224.9 L790.1 217.4 L790.4 221.6 L794.5 222.4 Z" fill="#404040" fill-opacity="0.85"/>
<path d="M862.3 170.5 Q829.0 211.3 806.1 247.4" fill="none" stroke="#404040" stroke-opacity="0.85" stroke-width="2.0"/>
<path d="M802.8 252.7 L804.3 241.4 L806.4 247.0 L812.4 246.6 Z" fill="#404040" fill-opacity="0.85"/>
<path d="M862.3 170.5 Q836.7 216.8 806.7 249.4" fill="none" stroke="#404040" stroke-opacity="0.85" stroke-width="1.6"/>
<path d="M803.3 253.1 L806.1 244.4 L806.9 249.2 L811.7 249.6 Z" fill="#404040" fill-opacity="0.85"/>
<path d="M862.3 170.5 Q823.4 216.6 797.4 259.9" fill="none" stroke="#404040" stroke-opacity="0.85" stroke-width="2.0"/>
<path d="M794.2 265.3 L795.4 254.0 L797.7 259.5 L803.6 258.9 Z" fill="#404040" fill-opacity="0.85"/>
<path d="M862.3 170.5 Q832.2 222.9 798.0 261.9" fill="none" stroke="#404040" stroke-opacity="0.85" stroke-width="1.6"/>
<path d="M794.7 265.7 L797.3 256.9 L798.3 261.6 L803.1 262.0 Z" fill="#404040" fill-opacity="0.85"/>
<path d="M862.3 170.5 Q813.1 224.1 780.7 277.6" fill="none" stroke="#404040" stroke-opacity="0.85" stroke-width="1.8"/>
<path d="M777.7 282.4 L778.9 272.2 L780.9 277.3 L786.2 276.7 Z" fill="#404040" fill-opacity="0.85"/>
<path d="M862.3 170.5 Q822.3 231.0 781.4 279.3" fill="none" stroke="#404040" stroke-opacity="0.85" stroke-width="1.5"/>
<path d="M778.3 282.9 L780.6 274.6 L781.6 279.0 L786.1 279.3 Z" fill="#404040" fill-opacity="0.85"/>
<path d="M862.3 170.5 Q848.4 218.1 829.1 254.9" fill="none" stroke="#404040" stroke-opacity="0.85" stroke-width="1.4"/>
<path d="M827.0 258.9 L827.5 250.7 L829.3 254.6 L833.5 253.8 Z" fill="#404040" fill-opacity="0.85"/>
<path d="M862.3 170.5 Q879.0 227.7 908.1 270.2" fill="none" stroke="#404040" stroke-opacity="0.85" stroke-width="1.4"/>
<path d="M910.7 273.9 L903.7 269.7 L908.0 269.9 L909.3 265.8 Z" fill="#404040" fill-opacity="0.85"/>
<path d="M862.3 170.5 Q893.9 220.6 910.1 269.2" fill="none" stroke="#404040" stroke-opacity="0.85" stroke-width="1.4"/>
<path d="M911.6 273.5 L906.0 267.5 L910.0 268.9 L912.4 265.3 Z" fill="#404040" fill-opacity="0.85"/>
<path d="M862.3 170.5 Q775.1 255.2 730.4 359.6" fill="none" stroke="#404040" stroke-opacity="0.85" stroke-width="1.3"/>
<path d="M728.6 363.8 L728.6 355.7 L730.5 359.3 L734.5 358.2 Z" fill="#404040" fill-opacity="0.85"/>
<path d="M862.3 170.5 Q810.5 279.6 732.8 361.2" fill="none" stroke="#404040" stroke-opacity="0.85" stroke-width="1.3"/>
<path d="M729.6 364.5 L732.5 356.8 L733.0 360.9 L737.1 361.3 Z" fill="#404040" fill-opacity="0.85"/>
<path d="M862.3 170.5 Q754.5 264.0 660.1 360.1" fill="none" stroke="#404040" stroke-opacity="0.85" stroke-width="1.3"/>
<path d="M657.0 363.3 L659.9 355.7 L660.4 359.8 L664.5 360.2 Z" fill="#404040" fill-opacity="0.85"/>
<path d="M862.3 170.5 Q715.3 282.4 615.1 427.9" fill="none" stroke="#404040" stroke-opacity="0.85" stroke-width="1.3"/>
<path d="M612.5 431.6 L614.1 423.6 L615.3 427.6 L619.4 427.3 Z" fill="#404040" fill-opacity="0.85"/>
<path d="M862.3 170.5 Q781.3 345.3 617.6 430.8" fill="none" stroke="#404040" stroke-opacity="0.85" stroke-width="1.3"/>
<path d="M613.6 432.9 L618.7 426.6 L617.9 430.6 L621.7 432.3 Z" fill="#404040" fill-opacity="0.85"/>
<path d="M715.9 267.5 Q678.4 267.9 652.0 254.9" fill="none" stroke="#404040" stroke-opacity="0.85" stroke-width="1.4"/>
<path d="M647.9 252.9 L656.1 253.2 L652.3 255.0 L653.1 259.2 Z" fill="#404040" fill-opacity="0.85"/>
<path d="M715.9 267.5 Q682.3 250.9 652.8 251.2" fill="none" stroke="#404040" stroke-opacity="0.85" stroke-width="1.4"/>
<path d="M648.3 251.3 L655.7 247.8 L653.2 251.2 L655.8 254.5 Z" fill="#404040" fill-opacity="0.85"/>
<path d="M695.9 233.7 Q703.2 252.2 710.8 261.3" fill="none" stroke="#404040" stroke-opacity="0.85" stroke-width="1.4"/>
<path d="M713.7 264.8 L706.3 261.2 L710.5 261.1 L711.5 256.9 Z" fill="#404040" fill-opacity="0.85"/>
<path d="M692.5 244.6 Q706.0 254.2 711.1 261.0" fill="none" stroke="#404040" stroke-opacity="0.85" stroke-width="1.4"/>
<path d="M713.8 264.7 L706.7 260.7 L710.9 260.8 L712.1 256.7 Z" fill="#404040" fill-opacity="0.85"/>
<path d="M715.9 267.5 Q709.3 248.6 701.3 239.7" fill="none" stroke="#404040" stroke-opacity="0.85" stroke-width="1.3"/>
<path d="M698.2 236.3 L705.6 239.7 L701.5 239.9 L700.9 244.0 Z" fill="#404040" fill-opacity="0.85"/>
<path d="M715.9 267.5 Q677.3 311.7 657.6 358.4" fill="none" stroke="#404040" stroke-opacity="0.85" stroke-width="1.3"/>
<path d="M655.9 362.6 L655.8 354.4 L657.8 358.1 L661.7 356.9 Z" fill="#404040" fill-opacity="0.85"/>
<path d="M715.9 267.5 Q693.1 321.6 659.8 359.7" fill="none" stroke="#404040" stroke-opacity="0.85" stroke-width="1.3"/>
<path d="M656.8 363.2 L659.3 355.4 L660.0 359.5 L664.1 359.6 Z" fill="#404040" fill-opacity="0.85"/>
<path d="M723.1 270.6 Q736.9 281.1 745.9 283.5" fill="none" stroke="#404040" stroke-opacity="0.85" stroke-width="1.4"/>
<path d="M750.3 284.6 L742.2 286.0 L745.6 283.4 L743.9 279.5 Z" fill="#404040" fill-opacity="0.85"/>
<path d="M723.1 270.6 Q748.0 282.6 766.4 285.1" fill="none" stroke="#404040" stroke-opacity="0.85" stroke-width="1.4"/>
<path d="M770.9 285.7 L763.1 288.0 L766.1 285.1 L764.0 281.4 Z" fill="#404040" fill-opacity="0.85"/>
<path d="M723.1 270.6 Q750.8 273.2 767.4 282.0" fill="none" stroke="#404040" stroke-opacity="0.85" stroke-width="1.3"/>
<path d="M771.4 284.2 L763.3 283.5 L767.1 281.9 L766.3 277.8 Z" fill="#404040" fill-opacity="0.85"/>
<path d="M740.3 234.4 Q745.9 239.3 745.4 239.3" fill="none" stroke="#404040" stroke-opacity="0.85" stroke-width="1.3"/>
<path d="M749.9 239.1 L742.6 242.6 L745.0 239.3 L742.3 236.2 Z" fill="#404040" fill-opacity="0.85"/>
<circle cx="655.3" cy="126.7" r="3.6" fill="#f3b13c" fill-opacity="0.88" stroke="#e39e10" stroke-width="0.9"/>
<circle cx="637.2" cy="141.8" r="4.3" fill="#f3b13c" fill-opacity="0.88" stroke="#e39e10" stroke-width="0.9"/>
<circle cx="648.5" cy="164.2" r="3.5" fill="#f3b13c" fill-opacity="0.88" stroke="#e39e10" stroke-width="0.9"/>
<circle cx="658.6" cy="170" r="3.5" fill="#f3b13c" fill-opacity="0.88" stroke="#e39e10" stroke-width="0.9"/>
<circle cx="654.1" cy="196.3" r="8.3" fill="#f3b13c" fill-opacity="0.88" stroke="#e39e10" stroke-width="0.9"/>
<circle cx="733.2" cy="175.5" r="9" fill="#f3b13c" fill-opacity="0.88" stroke="#e39e10" stroke-width="0.9"/>
<circle cx="862.3" cy="170.5" r="5.5" fill="#f3b13c" fill-opacity="0.88" stroke="#e39e10" stroke-width="0.9"/>
<circle cx="794.8" cy="88.3" r="3.5" fill="#f3b13c" fill-opacity="0.88" stroke="#e39e10" stroke-width="0.9"/>
<circle cx="811.3" cy="87.7" r="3.5" fill="#f3b13c" fill-opacity="0.88" stroke="#e39e10" stroke-width="0.9"/>
<circle cx="755.3" cy="154.7" r="3.5" fill="#f3b13c" fill-opacity="0.88" stroke="#e39e10" stroke-width="0.9"/>
<circle cx="747.1" cy="162.5" r="3.5" fill="#f3b13c" fill-opacity="0.88" stroke="#e39e10" stroke-width="0.9"/>
<circle cx="747.1" cy="171.1" r="3.5" fill="#f3b13c" fill-opacity="0.88" stroke="#e39e10" stroke-width="0.9"/>
<circle cx="754.4" cy="177.6" r="3.5" fill="#f3b13c" fill-opacity="0.88" stroke="#e39e10" stroke-width="0.9"/>
<circle cx="757.3" cy="182.9" r="3.5" fill="#f3b13c" fill-opacity="0.88" stroke="#e39e10" stroke-width="0.9"/>
<circle cx="753.4" cy="181.5" r="3.5" fill="#f3b13c" fill-opacity="0.88" stroke="#e39e10" stroke-width="0.9"/>
<circle cx="723.6" cy="184.4" r="3.5" fill="#f3b13c" fill-opacity="0.88" stroke="#e39e10" stroke-width="0.9"/>
<circle cx="729.9" cy="186" r="3.5" fill="#f3b13c" fill-opacity="0.88" stroke="#e39e10" stroke-width="0.9"/>
<circle cx="781.6" cy="165.3" r="3.5" fill="#f3b13c" fill-opacity="0.88" stroke="#e39e10" stroke-width="0.9"/>
<circle cx="729.9" cy="194.2" r="3.5" fill="#f3b13c" fill-opacity="0.88" stroke="#e39e10" stroke-width="0.9"/>
<circle cx="736.7" cy="193.2" r="3.5" fill="#f3b13c" fill-opacity="0.88" stroke="#e39e10" stroke-width="0.9"/>
<circle cx="737.7" cy="199.1" r="3.5" fill="#f3b13c" fill-opacity="0.88" stroke="#e39e10" stroke-width="0.9"/>
<circle cx="731.8" cy="200" r="3.5" fill="#f3b13c" fill-opacity="0.88" stroke="#e39e10" stroke-width="0.9"/>
<circle cx="747.5" cy="197.7" r="3.5" fill="#f3b13c" fill-opacity="0.88" stroke="#e39e10" stroke-width="0.9"/>
<circle cx="754.4" cy="197.2" r="3.5" fill="#f3b13c" fill-opacity="0.88" stroke="#e39e10" stroke-width="0.9"/>
<circle cx="762.4" cy="202.6" r="3.5" fill="#f3b13c" fill-opacity="0.88" stroke="#e39e10" stroke-width="0.9"/>
<circle cx="710.3" cy="201.1" r="3.5" fill="#f3b13c" fill-opacity="0.88" stroke="#e39e10" stroke-width="0.9"/>
<circle cx="725" cy="201.1" r="3.5" fill="#f3b13c" fill-opacity="0.88" stroke="#e39e10" stroke-width="0.9"/>
<circle cx="727.9" cy="206" r="3.5" fill="#f3b13c" fill-opacity="0.88" stroke="#e39e10" stroke-width="0.9"/>
<circle cx="716.2" cy="206" r="3.5" fill="#f3b13c" fill-opacity="0.88" stroke="#e39e10" stroke-width="0.9"/>
<circle cx="722" cy="207.9" r="3.5" fill="#f3b13c" fill-opacity="0.88" stroke="#e39e10" stroke-width="0.9"/>
<circle cx="701.5" cy="209.9" r="3.5" fill="#f3b13c" fill-opacity="0.88" stroke="#e39e10" stroke-width="0.9"/>
<circle cx="704.4" cy="213.8" r="3.5" fill="#f3b13c" fill-opacity="0.88" stroke="#e39e10" stroke-width="0.9"/>
<circle cx="709.3" cy="211.8" r="3.5" fill="#f3b13c" fill-opacity="0.88" stroke="#e39e10" stroke-width="0.9"/>
<circle cx="716.2" cy="216.7" r="3.5" fill="#f3b13c" fill-opacity="0.88" stroke="#e39e10" stroke-width="0.9"/>
<circle cx="714.2" cy="219.7" r="3.5" fill="#f3b13c" fill-opacity="0.88" stroke="#e39e10" stroke-width="0.9"/>
<circle cx="784.1" cy="227.2" r="3.5" fill="#f3b13c" fill-opacity="0.88" stroke="#e39e10" stroke-width="0.9"/>
<circle cx="696.2" cy="233.8" r="3.5" fill="#f3b13c" fill-opacity="0.88" stroke="#e39e10" stroke-width="0.9"/>
<circle cx="740.3" cy="234.4" r="3.5" fill="#f3b13c" fill-opacity="0.88" stroke="#e39e10" stroke-width="0.9"/>
<circle cx="753.4" cy="238.9" r="3.5" fill="#f3b13c" fill-opacity="0.88" stroke="#e39e10" stroke-width="0.9"/>
<circle cx="811.7" cy="147.3" r="3.5" fill="#f3b13c" fill-opacity="0.88" stroke="#e39e10" stroke-width="0.9"/>
<circle cx="795.9" cy="176.2" r="3.5" fill="#f3b13c" fill-opacity="0.88" stroke="#e39e10" stroke-width="0.9"/>
<circle cx="871.8" cy="179.4" r="3.5" fill="#f3b13c" fill-opacity="0.88" stroke="#e39e10" stroke-width="0.9"/>
<circle cx="952" cy="178" r="3.5" fill="#f3b13c" fill-opacity="0.88" stroke="#e39e10" stroke-width="0.9"/>
<circle cx="917.2" cy="189.5" r="3.5" fill="#f3b13c" fill-opacity="0.88" stroke="#e39e10" stroke-width="0.9"/>
<circle cx="800.9" cy="255.7" r="3.5" fill="#f3b13c" fill-opacity="0.88" stroke="#e39e10" stroke-width="0.9"/>
<circle cx="792.4" cy="268.3" r="3.5" fill="#f3b13c" fill-opacity="0.88" stroke="#e39e10" stroke-width="0.9"/>
<circle cx="825.4" cy="262" r="3.5" fill="#f3b13c" fill-opacity="0.88" stroke="#e39e10" stroke-width="0.9"/>
<circle cx="912.7" cy="276.8" r="3.5" fill="#f3b13c" fill-opacity="0.88" stroke="#e39e10" stroke-width="0.9"/>
<circle cx="775.4" cy="286.3" r="4.5" fill="#f3b13c" fill-opacity="0.88" stroke="#e39e10" stroke-width="0.9"/>
<circle cx="753.7" cy="285.5" r="3.5" fill="#f3b13c" fill-opacity="0.88" stroke="#e39e10" stroke-width="0.9"/>
<circle cx="715.9" cy="267.5" r="3.5" fill="#f3b13c" fill-opacity="0.88" stroke="#e39e10" stroke-width="0.9"/>
<circle cx="723.1" cy="270.6" r="3.5" fill="#f3b13c" fill-opacity="0.88" stroke="#e39e10" stroke-width="0.9"/>
<circle cx="695.9" cy="233.7" r="3.5" fill="#f3b13c" fill-opacity="0.88" stroke="#e39e10" stroke-width="0.9"/>
<circle cx="692.5" cy="244.6" r="3.5" fill="#f3b13c" fill-opacity="0.88" stroke="#e39e10" stroke-width="0.9"/>
<circle cx="644.8" cy="251.3" r="3.5" fill="#f3b13c" fill-opacity="0.88" stroke="#e39e10" stroke-width="0.9"/>
<circle cx="654.5" cy="365.8" r="3.5" fill="#f3b13c" fill-opacity="0.88" stroke="#e39e10" stroke-width="0.9"/>
<circle cx="727.2" cy="367" r="3.5" fill="#f3b13c" fill-opacity="0.88" stroke="#e39e10" stroke-width="0.9"/>
<circle cx="610.5" cy="434.5" r="3.5" fill="#f3b13c" fill-opacity="0.88" stroke="#e39e10" stroke-width="0.9"/>
<text x="329.3" y="443.7" font-size="9.5" fill="#333">200 km</text>
<path d="M323.8 441.5 V446 H366 V441.5" fill="none" stroke="#333" stroke-width="1.2"/>
<text x="1237.8" y="444.8" text-anchor="end" font-size="10.9" fill="#555">© <tspan text-decoration="underline">OpenStreetMap contributors</tspan></text>
</svg>
<svg class="abs" style="left:0;top:0;overflow:visible" width="1" height="1">
<path d="M469.8 571.1 L469.80 500.60 A70.5 70.5 0 1 1 445.09 637.13 Z" fill="#cdcdcd"/>
<path d="M469.8 571.1 L445.09 637.13 A70.5 70.5 0 0 1 469.80 500.60 Z" fill="#fddd34"/>
<line x1="469.8" y1="571.1" x2="469.80" y2="500.60" stroke="#8c8c78" stroke-width="0.7"/>
<line x1="469.8" y1="571.1" x2="445.09" y2="637.13" stroke="#8c8c78" stroke-width="0.7"/>
</svg>
<svg class="abs" style="left:0;top:0;overflow:visible" width="1" height="1">
<path d="M781.6 571.4 L781.60 500.60 A70.8 70.8 0 0 1 829.08 518.88 Z" fill="#9c6425"/>
<path d="M781.6 571.4 L829.08 518.88 A70.8 70.8 0 0 1 851.60 582.04 Z" fill="#bb8b56"/>
<path d="M781.6 571.4 L851.60 582.04 A70.8 70.8 0 0 1 744.80 631.88 Z" fill="#ece8c0"/>
<path d="M781.6 571.4 L744.80 631.88 A70.8 70.8 0 0 1 715.94 597.88 Z" fill="#78a5a8"/>
<path d="M781.6 571.4 L715.94 597.88 A70.8 70.8 0 0 1 781.60 500.60 Z" fill="#26879f"/>
<line x1="781.6" y1="571.4" x2="781.60" y2="500.60" stroke="rgba(255,255,255,0.35)" stroke-width="0.6"/>
<line x1="781.6" y1="571.4" x2="829.08" y2="518.88" stroke="rgba(255,255,255,0.35)" stroke-width="0.6"/>
<line x1="781.6" y1="571.4" x2="851.60" y2="582.04" stroke="rgba(255,255,255,0.35)" stroke-width="0.6"/>
<line x1="781.6" y1="571.4" x2="744.80" y2="631.88" stroke="rgba(255,255,255,0.35)" stroke-width="0.6"/>
<line x1="781.6" y1="571.4" x2="715.94" y2="597.88" stroke="rgba(255,255,255,0.35)" stroke-width="0.6"/>
</svg>
<svg class="abs" style="left:0;top:0;overflow:visible" width="1" height="1">
<path d="M1092.2 571.4 L1092.20 500.60 A70.8 70.8 0 0 1 1154.87 604.33 Z" fill="#9c6425"/>
<path d="M1092.2 571.4 L1154.87 604.33 A70.8 70.8 0 0 1 1117.43 637.55 Z" fill="#bb8b56"/>
<path d="M1092.2 571.4 L1117.43 637.55 A70.8 70.8 0 0 1 1043.73 519.79 Z" fill="#ece8c0"/>
<path d="M1092.2 571.4 L1043.73 519.79 A70.8 70.8 0 0 1 1053.52 512.10 Z" fill="#78a5a8"/>
<path d="M1092.2 571.4 L1053.52 512.10 A70.8 70.8 0 0 1 1092.20 500.60 Z" fill="#26879f"/>
<line x1="1092.2" y1="571.4" x2="1092.20" y2="500.60" stroke="rgba(255,255,255,0.35)" stroke-width="0.6"/>
<line x1="1092.2" y1="571.4" x2="1154.87" y2="604.33" stroke="rgba(255,255,255,0.35)" stroke-width="0.6"/>
<line x1="1092.2" y1="571.4" x2="1117.43" y2="637.55" stroke="rgba(255,255,255,0.35)" stroke-width="0.6"/>
<line x1="1092.2" y1="571.4" x2="1043.73" y2="519.79" stroke="rgba(255,255,255,0.35)" stroke-width="0.6"/>
<line x1="1092.2" y1="571.4" x2="1053.52" y2="512.10" stroke="rgba(255,255,255,0.35)" stroke-width="0.6"/>
</svg>
<div class="t" style="left:-29.6px;width:1000px;text-align:center;top:467.36px;font-size:9.5px;font-weight:400;color:#595959;">Data quality</div>
<div class="t" style="left:281.6px;width:1000px;text-align:center;top:467.10px;font-size:9.8px;font-weight:400;color:#595959;">Total shipped per modality (Tonnes)</div>
<div class="t" style="left:592.1px;width:1000px;text-align:center;top:467.10px;font-size:9.8px;font-weight:400;color:#595959;">Total kg CO<span class="sub">2</span>e per modality</div>
<div class="t" style="left:367.2px;top:551.39px;font-size:11px;font-weight:400;color:#595959;">Gold</div>
<div class="t" style="left:548.8px;top:580.29px;font-size:11px;font-weight:400;color:#595959;">Silver</div>
<div class="t" style="left:405.6px;top:557.31px;font-size:9.2px;font-weight:400;color:#7a6a3a;">44.3%</div>
<div class="t" style="left:509.4px;top:577.11px;font-size:9.2px;font-weight:400;color:#666;">55.7%</div>
<div class="t" style="left:810.9px;top:490.42px;font-size:11.2px;font-weight:400;color:#595959;">Road</div>
<div class="t" style="left:857.1px;top:538.62px;font-size:11.2px;font-weight:400;color:#595959;">Rail</div>
<div class="t" style="left:815.6px;top:636.82px;font-size:11.2px;font-weight:400;color:#595959;">Air Freight</div>
<div class="t" style="left:691.3px;top:617.32px;font-size:11.2px;font-weight:400;color:#595959;">Barge</div>
<div class="t" style="left:663.0px;top:520.93px;font-size:11.3px;font-weight:400;color:#595959;">Seafreight</div>
<div class="t" style="left:788.5px;top:515.81px;font-size:9.2px;font-weight:700;color:#fff;">11.7%</div>
<div class="t" style="left:818.4px;top:549.41px;font-size:9.2px;font-weight:700;color:#fff;">15.7%</div>
<div class="t" style="left:791.7px;top:614.91px;font-size:9.2px;font-weight:400;color:#777;">31.3%</div>
<div class="t" style="left:725.9px;top:537.11px;font-size:9.2px;font-weight:700;color:#fff;">31.1%</div>
<div class="t" style="left:1017.6px;top:485.63px;font-size:11.3px;font-weight:400;color:#595959;">Seafreight</div>
<div class="abs" style="left:1071.5px;top:496px;width:1px;height:8px;background:#777"></div>
<div class="t" style="left:1013.5px;top:502.42px;font-size:11.2px;font-weight:400;color:#595959;">Barge</div>
<div class="t" style="left:1161.4px;top:523.82px;font-size:11.2px;font-weight:400;color:#595959;">Road</div>
<div class="t" style="left:1146.3px;top:624.22px;font-size:11.2px;font-weight:400;color:#595959;">Rail</div>
<div class="t" style="left:972.6px;top:608.42px;font-size:11.2px;font-weight:400;color:#595959;">Air Freight</div>
<div class="t" style="left:1123.6px;top:540.31px;font-size:9.2px;font-weight:700;color:#fff;">32.7%</div>
<div class="t" style="left:1036.5px;top:594.41px;font-size:9.2px;font-weight:400;color:#777;">43.8%</div>
<div class="t" style="left:948.0px;width:1000px;text-align:center;top:61.72px;font-size:21px;font-weight:400;color:#595959;">Data completeness</div>
<div class="t" style="left:948.0px;width:1000px;text-align:center;top:90.68px;font-size:30.5px;font-weight:400;color:#0f6e13;">99,7<span style="display:inline-block;transform:scaleX(0.66);transform-origin:0 0;margin-right:-9.5px;margin-left:0.5px;-webkit-text-stroke:0.6px #0f6e13">%</span></div>
<div class="t" style="left:948.0px;width:1000px;text-align:center;top:165.32px;font-size:21px;font-weight:400;color:#595959;">Shipments</div>
<div class="t" style="left:948.0px;width:1000px;text-align:center;top:193.66px;font-size:32px;font-weight:400;color:#1a1a1a;">5.156</div>
<div class="t" style="left:1331.4px;top:268.82px;font-size:21px;font-weight:400;color:#595959;">Total shipped (Tonnes)</div>
<svg class="abs" style="left:1550.5px;top:273.5px" width="15" height="14" viewBox="0 0 15 14"><path d="M6 1.5 H1.3 V12.7 H12.5 V8" fill="none" stroke="#404040" stroke-width="1.4"/><path d="M8 0.9 H14 V6.9 M14 0.9 L6.5 8.4" fill="none" stroke="#404040" stroke-width="1.4"/></svg>
<div class="t" style="left:948.0px;width:1000px;text-align:center;top:298.01px;font-size:32px;font-weight:400;color:#1a1a1a;">714.498</div>
<div class="t" style="left:1375.6px;top:373.42px;font-size:20.3px;font-weight:400;color:#595959;">Total kg CO<span class="sub">2</span>e</div>
<svg class="abs" style="left:1507px;top:377.5px" width="15" height="14" viewBox="0 0 15 14"><path d="M6 1.5 H1.3 V12.7 H12.5 V8" fill="none" stroke="#404040" stroke-width="1.4"/><path d="M8 0.9 H14 V6.9 M14 0.9 L6.5 8.4" fill="none" stroke="#404040" stroke-width="1.4"/></svg>
<div class="t" style="left:948.0px;width:1000px;text-align:center;top:401.41px;font-size:32px;font-weight:400;color:#1a1a1a;">19.484.253</div>
<div class="t" style="left:1345.6px;top:477.72px;font-size:20.3px;font-weight:400;color:#595959;">Kg CO<span class="sub">2</span>e per Tonnes</div>
<svg class="abs" style="left:1537.5px;top:481.8px" width="15" height="14" viewBox="0 0 15 14"><path d="M6 1.5 H1.3 V12.7 H12.5 V8" fill="none" stroke="#404040" stroke-width="1.4"/><path d="M8 0.9 H14 V6.9 M14 0.9 L6.5 8.4" fill="none" stroke="#404040" stroke-width="1.4"/></svg>
<div class="t" style="left:948.0px;width:1000px;text-align:center;top:505.21px;font-size:32px;font-weight:400;color:#1a1a1a;">27,27</div>
<div class="t" style="left:1299.5px;top:581.26px;font-size:20.6px;font-weight:400;color:#595959;">Kg CO<span class="sub">2</span>e per Tonnes.km(GCD)...</div>
<div class="t" style="left:948.0px;width:1000px;text-align:center;top:608.21px;font-size:32px;font-weight:400;color:#1a1a1a;">0,0759</div>
</body></html>
